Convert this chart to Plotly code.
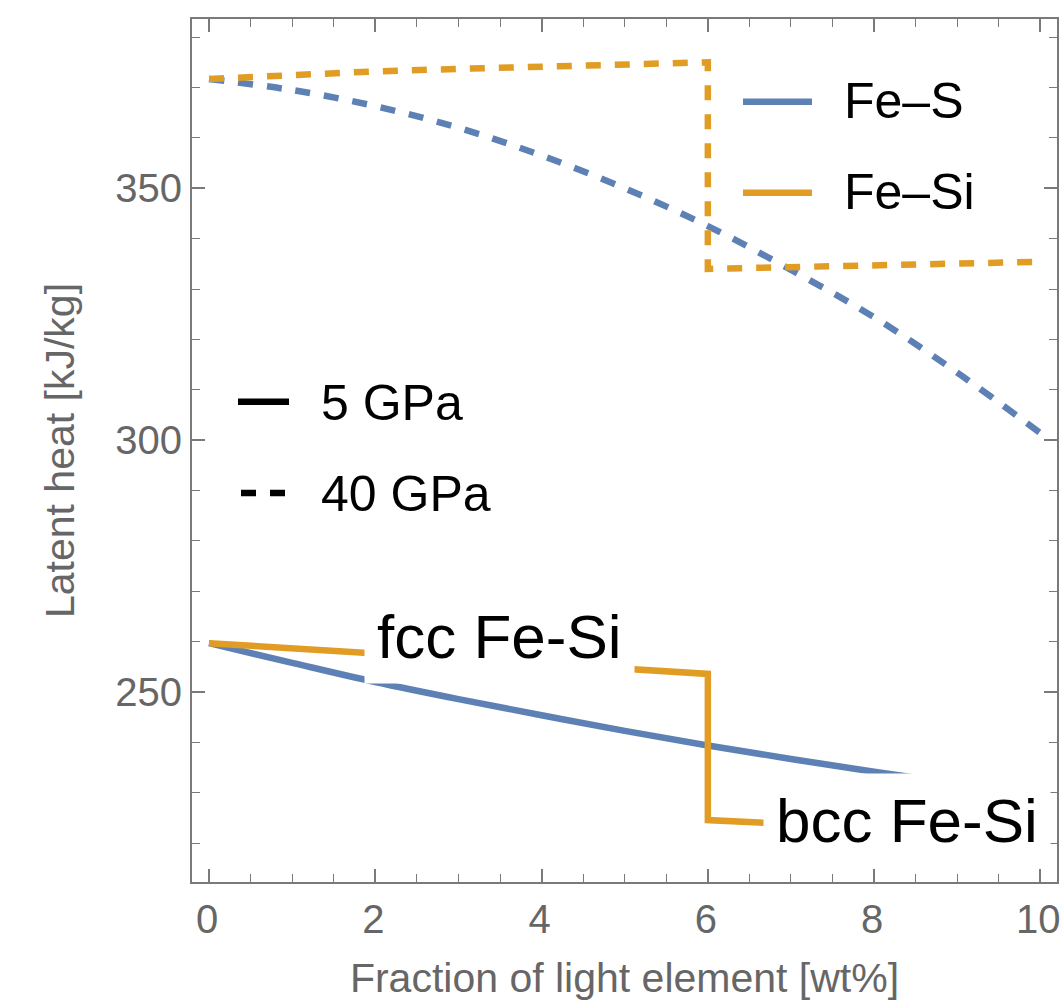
import plotly.graph_objects as go

# ---------------- data ----------------
x_fes = [0, 1, 2, 3, 4, 5, 6, 7, 8, 9, 10]
fes_40 = [371.7, 369.5, 366.3, 362.0, 356.5, 350.0, 342.5, 333.8, 324.4, 313.4, 301.4]
fes_5 = [259.7, 255.8, 252.0, 248.6, 245.4, 242.3, 239.4, 236.7, 234.2, 231.8, 229.5]

x_fesi = [0, 1, 2, 3, 4, 5, 6, 6, 7, 8, 9, 10]
fesi_40 = [371.7, 372.5, 373.2, 373.7, 374.2, 374.6, 375.0, 334.0, 334.4, 334.8, 335.1, 335.4]
fesi_5 = [259.7, 258.7, 257.7, 256.7, 255.6, 254.6, 253.6, 224.6, 223.8, 223.0, 222.2, 221.4]

x_range = [-0.205, 10.2]
y_range = [212.3, 383.6]

series_names = ["Fe\u2013S", "Fe\u2013Si"]
pressure_names = ["5 GPa", "40 GPa"]
phase_labels = ["fcc Fe-Si", "bcc Fe-Si"]
phase_label_pos = [(3.49, 261.0), (8.4, 224.6)]

BLUE = "#5e81b5"
ORANGE = "#e19c24"
GREY_TXT = "#666666"
GREY_AX = "#7a7a7a"
FONT = "Liberation Sans, Arial, Helvetica, sans-serif"
DASH = "15px,14px"
LW = 6.5

W, H = 1062, 1001
ML, MR, MT, MB = 192, 5, 19, 119
PW, PH = W - ML - MR, H - MT - MB


def px(xp):
    return (xp - ML) / PW


def py(yp):
    return (H - MB - yp) / PH


fig = go.Figure()

fig.add_trace(go.Scatter(x=x_fes, y=fes_40, mode="lines", line=dict(color=BLUE, width=LW, dash=DASH, shape="spline"),
                         showlegend=False))
fig.add_trace(go.Scatter(x=x_fesi, y=fesi_40, mode="lines", line=dict(color=ORANGE, width=LW, dash=DASH),
                         showlegend=False))
fig.add_trace(go.Scatter(x=x_fes, y=fes_5, mode="lines", line=dict(color=BLUE, width=LW, shape="spline"),
                         showlegend=False))
fig.add_trace(go.Scatter(x=x_fesi, y=fesi_5, mode="lines", line=dict(color=ORANGE, width=LW),
                         showlegend=False))

shapes = []
annotations = []

# legend: series colours
for name, col, yk in zip(series_names, [BLUE, ORANGE], [101.7, 192.7]):
    shapes.append(dict(type="line", xref="paper", yref="paper", x0=px(743), x1=px(812), y0=py(yk), y1=py(yk),
                       line=dict(color=col, width=LW)))
    annotations.append(dict(text=name, xref="paper", yref="paper", x=px(842), y=py(yk - 1), xanchor="left",
                            yanchor="middle", showarrow=False, font=dict(family=FONT, size=50, color="black")))

# legend: pressures
for name, dash, yk, x0, x1 in zip(pressure_names, ["solid", DASH], [401.7, 493.0], [238, 241], [289, 286]):
    shapes.append(dict(type="line", xref="paper", yref="paper", x0=px(x0), x1=px(x1), y0=py(yk), y1=py(yk),
                       line=dict(color="black", width=LW, dash=dash)))
    annotations.append(dict(text=name, xref="paper", yref="paper", x=px(319), y=py(yk + 1), xanchor="left",
                            yanchor="middle", showarrow=False, font=dict(family=FONT, size=50, color="black")))

# phase labels with white boxes
for txt, (lx, ly) in zip(phase_labels, phase_label_pos):
    annotations.append(dict(text=txt, x=lx, y=ly, xref="x", yref="y", showarrow=False,
                            font=dict(family=FONT, size=62, color="black"), bgcolor="white", borderpad=12,
                            xanchor="center", yanchor="middle"))

axis_common = dict(showline=True, linecolor=GREY_AX, linewidth=2, mirror="ticks", ticks="inside",
                   ticklen=13, tickwidth=1.6, tickcolor=GREY_AX, showgrid=False, zeroline=False,
                   automargin=False, ticklabeloverflow="allow",
                   tickfont=dict(family=FONT, size=40, color=GREY_TXT))

fig.update_layout(
    width=W, height=H,
    margin=dict(l=ML, r=MR, t=MT, b=MB),
    paper_bgcolor="white", plot_bgcolor="white",
    xaxis=dict(range=x_range, dtick=2, tick0=0,
               minor=dict(dtick=0.5, ticklen=8, tickwidth=1.4, tickcolor=GREY_AX, ticks="inside", showgrid=False),
               title=dict(text="Fraction of light element [wt%]", standoff=31,
                          font=dict(family=FONT, size=41, color=GREY_TXT)),
               ticklabelstandoff=1, ticklabelshift=-2,
               **axis_common),
    yaxis=dict(range=y_range, dtick=50, tick0=0,
               minor=dict(dtick=10, ticklen=8, tickwidth=1.4, tickcolor=GREY_AX, ticks="inside", showgrid=False),
               title=dict(text="Latent heat [kJ/kg]", standoff=28,
                          font=dict(family=FONT, size=41, color=GREY_TXT)),
               ticklabelstandoff=0,
               **axis_common),
    shapes=shapes,
    annotations=annotations,
    showlegend=False,
)

fig.write_html("out.html")
